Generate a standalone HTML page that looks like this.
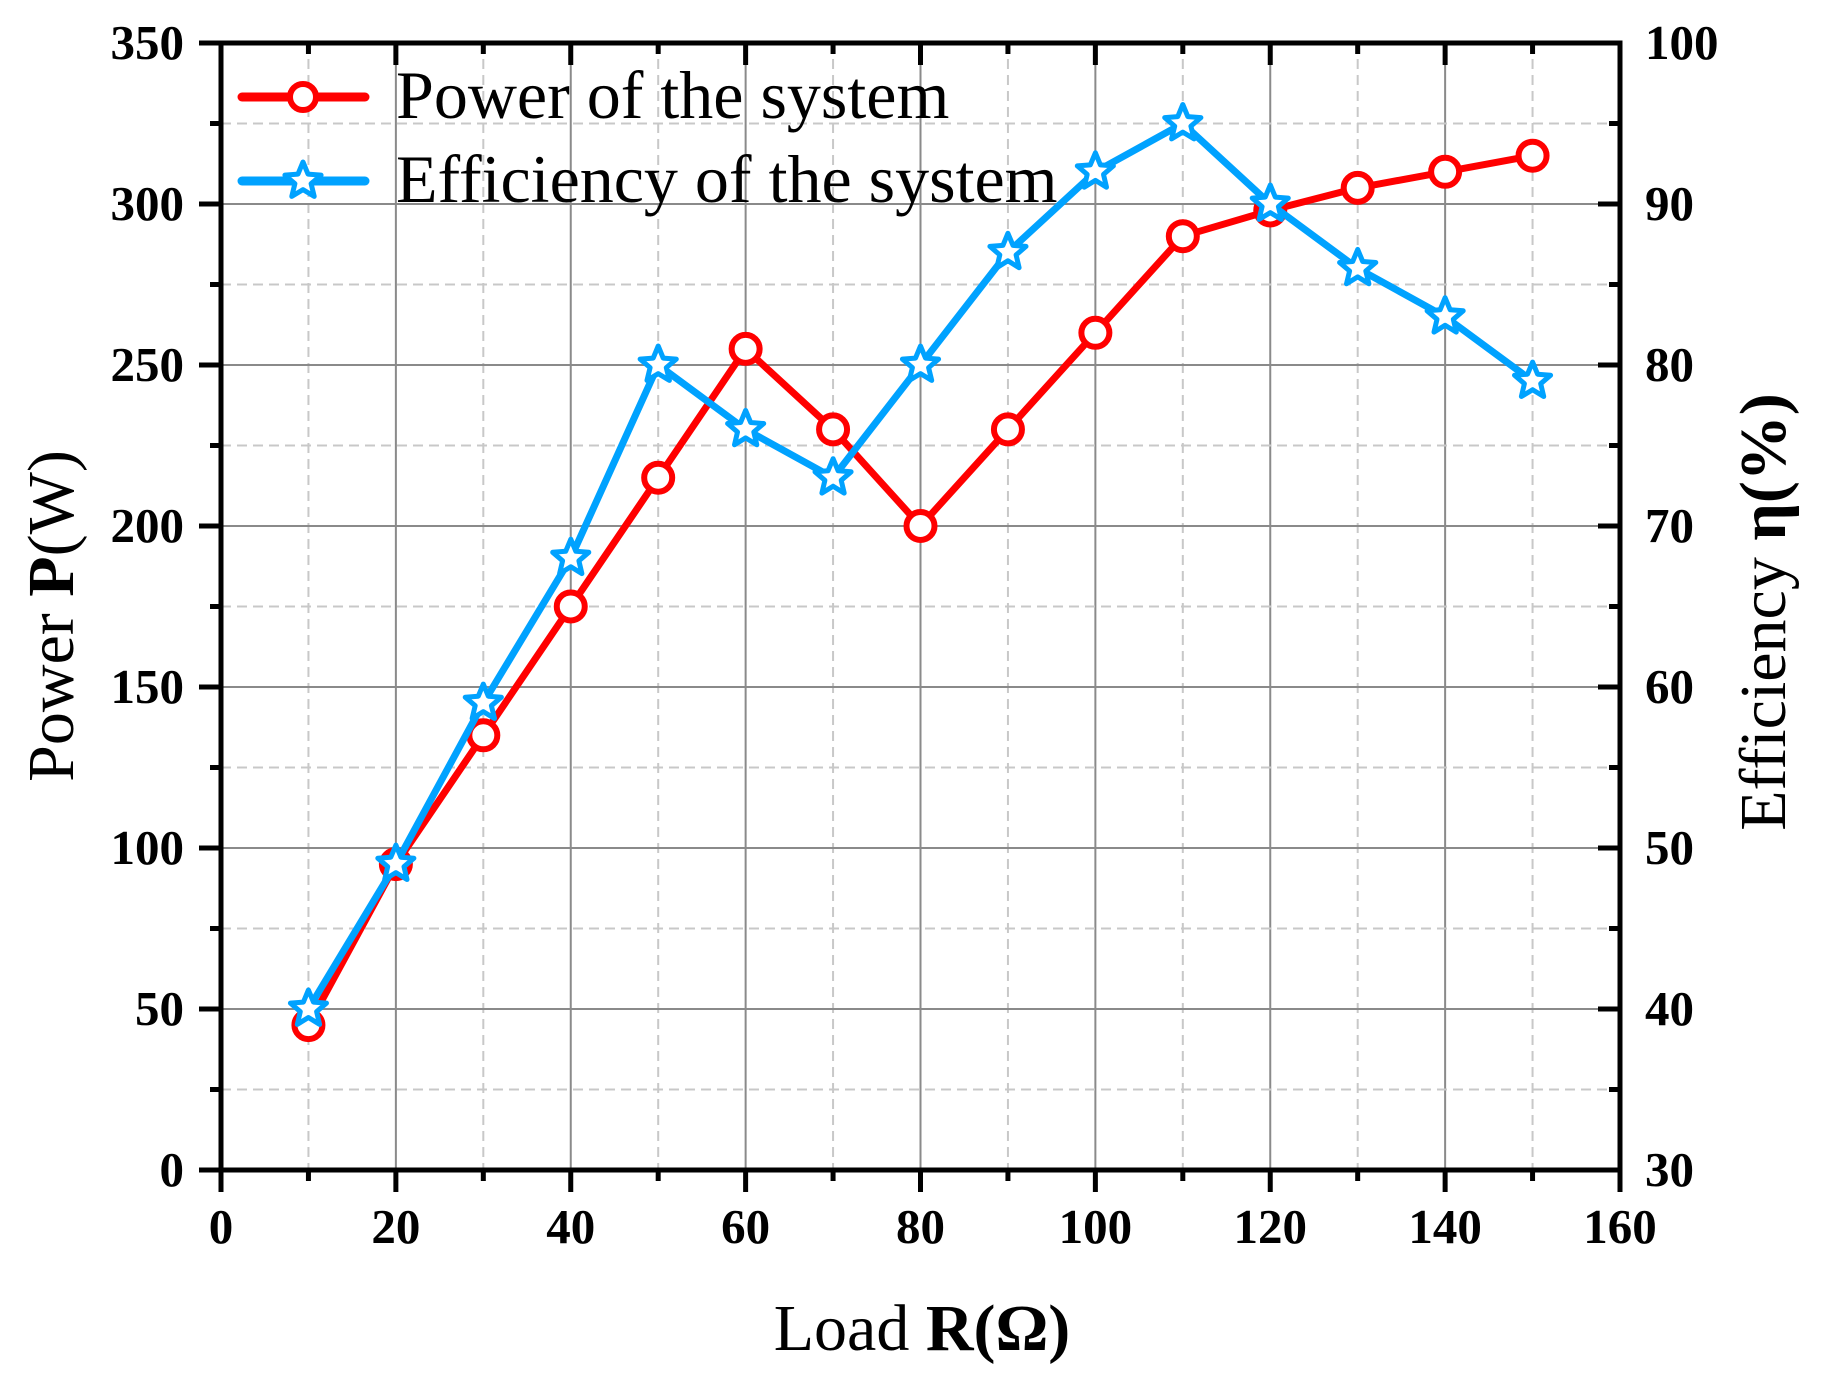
<!DOCTYPE html>
<html><head><meta charset="utf-8"><style>
html,body{margin:0;padding:0;background:#fff;}
svg{display:block;font-family:"Liberation Serif",serif;}
</style></head><body>
<svg id="chart" width="1829" height="1383" viewBox="0 0 1829 1383">
</svg>
<script>
const xValues=[10,20,30,40,50,60,70,80,90,100,110,120,130,140,150];
const powerValues=[45,95,135,175,215,255,230,200,230,260,290,298,305,310,315];
const efficiencyValues=[40,49,59,68,80,76,73,80,87,92,95,90,86,83,79];
const xTicks=[0,20,40,60,80,100,120,140,160];
const yLeftTicks=[0,50,100,150,200,250,300,350];
const yRightTicks=[30,40,50,60,70,80,90,100];

const L=221,R=1620,T=43,B=1170;
const NS="http://www.w3.org/2000/svg";
const svg=document.getElementById('chart');
const sx=v=>L+(v-0)/160*(R-L);
const sy=v=>B-(v-0)/350*(B-T);
const sy2=v=>B-(v-30)/70*(B-T);
function mk(tag,attrs,parent){const e=document.createElementNS(NS,tag);for(const k in attrs)e.setAttribute(k,attrs[k]);(parent||svg).appendChild(e);return e;}

const grid=mk('g',{});


for(let v=10;v<160;v+=20){mk('line',{x1:sx(v),x2:sx(v),y1:T,y2:B,stroke:'#c8c8c8','stroke-width':2,'stroke-dasharray':'10,6'},grid);}
for(let v=20;v<160;v+=20){mk('line',{x1:sx(v),x2:sx(v),y1:T,y2:B,stroke:'#8a8a8a','stroke-width':2},grid);}
for(let v=25;v<350;v+=50){mk('line',{x1:L,x2:R,y1:sy(v),y2:sy(v),stroke:'#c8c8c8','stroke-width':2,'stroke-dasharray':'10,6'},grid);}
for(let v=50;v<350;v+=50){mk('line',{x1:L,x2:R,y1:sy(v),y2:sy(v),stroke:'#8a8a8a','stroke-width':2},grid);}

const frame=mk('rect',{x:L,y:T,width:R-L,height:B-T,fill:'none',stroke:'#000','stroke-width':5});



const ticks=mk('g',{stroke:'#000','stroke-width':5});


for(let v=0;v<=160;v+=10){const maj=v%20===0;const len=maj?22:11;mk('line',{x1:sx(v),x2:sx(v),y1:B,y2:B+len},ticks);mk('line',{x1:sx(v),x2:sx(v),y1:T,y2:T+len},ticks);}
for(let v=0;v<=350;v+=25){const maj=v%50===0;const len=maj?22:11;mk('line',{x1:L-len,x2:L,y1:sy(v),y2:sy(v)},ticks);mk('line',{x1:R-len,x2:R,y1:sy(v),y2:sy(v)},ticks);}

xTicks.forEach(v=>{const t=mk('text',{x:sx(v),y:1243,'text-anchor':'middle','font-size':49,'font-weight':'bold'});t.textContent=v;

});
yLeftTicks.forEach(v=>{const t=mk('text',{x:184,y:sy(v)+16,'text-anchor':'end','font-size':49,'font-weight':'bold'});t.textContent=v;

});
yRightTicks.forEach(v=>{const t=mk('text',{x:1645,y:sy2(v)+16,'text-anchor':'start','font-size':49,'font-weight':'bold'});t.textContent=v;

});

const xt=mk('text',{x:922,y:1350,'text-anchor':'middle','font-size':66});
xt.innerHTML='Load <tspan font-weight="bold">R(Ω)</tspan>';


const yl=mk('text',{x:0,y:0,'text-anchor':'middle','font-size':66,transform:'translate(73,616) rotate(-90)'});
yl.innerHTML='Power <tspan font-weight="bold">P</tspan>(W)';


const yr=mk('text',{x:0,y:0,'text-anchor':'middle','font-size':66,transform:'translate(1785,612) rotate(-90)'});
yr.innerHTML='Efficiency <tspan font-weight="bold">η(%)</tspan>';



function star(cx,cy,r){let p=[];for(let i=0;i<10;i++){const a=-Math.PI/2+i*Math.PI/5;const rr=i%2?r*0.45:r;p.push((cx+rr*Math.cos(a)).toFixed(1)+','+(cy+rr*Math.sin(a)).toFixed(1));}return p.join(' ');}

const pg=mk('g',{});


mk('polyline',{points:xValues.map((x,i)=>sx(x)+','+sy(powerValues[i])).join(' '),fill:'none',stroke:'#ff0000','stroke-width':7,'stroke-linejoin':'round'},pg);
xValues.forEach((x,i)=>{const c=mk('circle',{cx:sx(x),cy:sy(powerValues[i]),r:14,fill:'#fff',stroke:'#ff0000','stroke-width':6},pg);

});

const eg=mk('g',{});


mk('polyline',{points:xValues.map((x,i)=>sx(x)+','+sy2(efficiencyValues[i])).join(' '),fill:'none',stroke:'#00a2ff','stroke-width':7,'stroke-linejoin':'round'},eg);
xValues.forEach((x,i)=>{const s=mk('polygon',{points:star(sx(x),sy2(efficiencyValues[i]),19),fill:'#fff',stroke:'#00a2ff','stroke-width':5,'stroke-linejoin':'round'},eg);

});

const lg=mk('g',{});


const le1=mk('g',{},lg);


mk('line',{x1:242,x2:365,y1:97,y2:97,stroke:'#ff0000','stroke-width':9,'stroke-linecap':'round'},le1);
mk('circle',{cx:303,cy:97,r:13,fill:'#fff',stroke:'#ff0000','stroke-width':6},le1);
const t1=mk('text',{x:396,y:118,'font-size':68},le1);t1.textContent='Power of the system';
const le2=mk('g',{},lg);


mk('line',{x1:242,x2:365,y1:181,y2:181,stroke:'#00a2ff','stroke-width':9,'stroke-linecap':'round'},le2);
mk('polygon',{points:star(303,181,19),fill:'#fff',stroke:'#00a2ff','stroke-width':5,'stroke-linejoin':'round'},le2);
const t2=mk('text',{x:396,y:202,'font-size':68},le2);t2.textContent='Efficiency of the system';
</script>
</body></html>
